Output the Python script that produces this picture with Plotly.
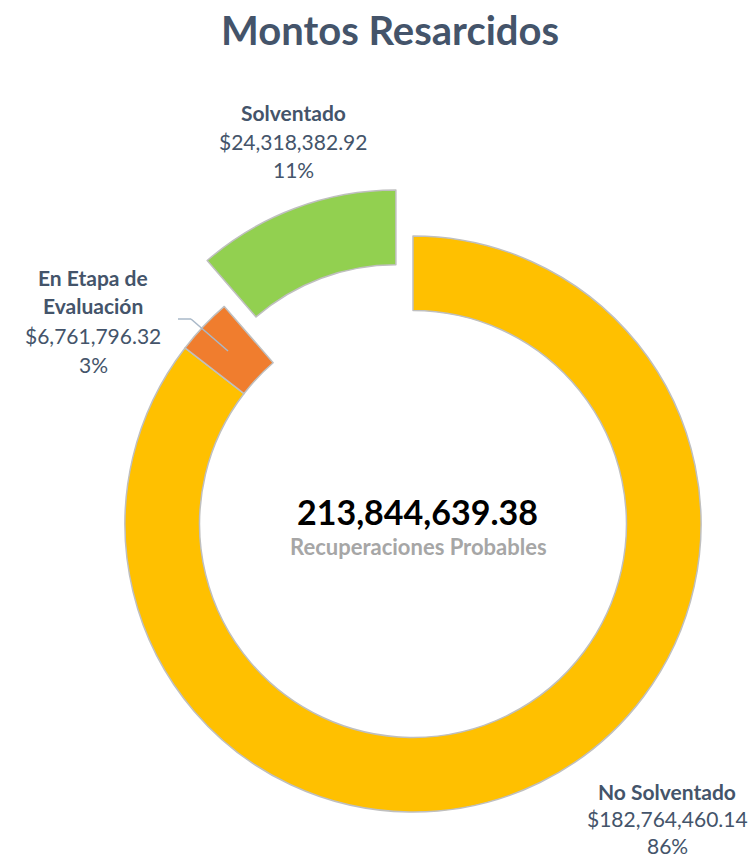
import plotly.graph_objects as go

categories = ["No Solventado", "En Etapa de<br>Evaluación", "Solventado"]
values = [182764460.14, 6761796.32, 24318382.92]
pct_labels = ["86%", "3%", "11%"]
colors = ["#FFC000", "#F07D2E", "#92D050"]
pulls = [0, 0, 0.17]
total_value = 213844639.38
title_text = "Montos Resarcidos"
center_caption = "Recuperaciones Probables"

W, H = 756, 861
FONT = "Lato"
LABEL_COLOR = "#44546A"

fig = go.Figure()
fig.add_trace(go.Pie(
    labels=categories,
    values=values,
    sort=False,
    direction="clockwise",
    rotation=0,
    hole=0.741,
    pull=pulls,
    marker=dict(colors=colors, line=dict(color="#BFBFBF", width=1.5)),
    textinfo="none",
    hoverinfo="label+value+percent",
    showlegend=False,
    domain=dict(x=[0.0975, 0.9951], y=[0.0, 0.7828]),
))

def px(x, y):
    return x / W, 1 - y / H

def note(x, y, text, size, color):
    ax, ay = px(x, y)
    return dict(x=ax, y=ay, xref="paper", yref="paper", showarrow=False,
                xanchor="center", yanchor="middle", text=text,
                font=dict(family=FONT, size=size, color=color))

annotations = []
annotations.append(note(390, 30, f"<b>{title_text}</b>", 40, LABEL_COLOR))
annotations.append(note(417, 511, f"<b>{total_value:,.2f}</b>", 34, "#000000"))
annotations.append(note(418, 546, f"<b>{center_caption}</b>", 22, "#A6A6A6"))

label_pos = [(667, 791, 27), (93, 277, 29), (293, 112, 29)]
for name, v, p, (lx, ly, pitch) in zip(categories, values, pct_labels, label_pos):
    lines = [f"<b>{n}</b>" for n in name.split("<br>")] + [f"${v:,.2f}", p]
    for i, line in enumerate(lines):
        annotations.append(note(lx, ly + i * pitch, line, 21, LABEL_COLOR))

p0 = px(178, 319)
p1 = px(191, 319)
p2 = px(228, 351)
shapes = [
    dict(type="line", xref="paper", yref="paper", x0=p0[0], y0=p0[1], x1=p1[0], y1=p1[1],
         line=dict(color="#A9B8C8", width=1.5)),
    dict(type="line", xref="paper", yref="paper", x0=p1[0], y0=p1[1], x1=p2[0], y1=p2[1],
         line=dict(color="#A9B8C8", width=1.5)),
]

fig.update_layout(
    width=W, height=H, autosize=False,
    margin=dict(l=0, r=0, t=0, b=0),
    paper_bgcolor="white", plot_bgcolor="white",
    annotations=annotations,
    shapes=shapes,
    font=dict(family=FONT),
)

fig.write_html("out.html", config={"displayModeBar": False},
               post_script="document.body.style.margin='0';")
